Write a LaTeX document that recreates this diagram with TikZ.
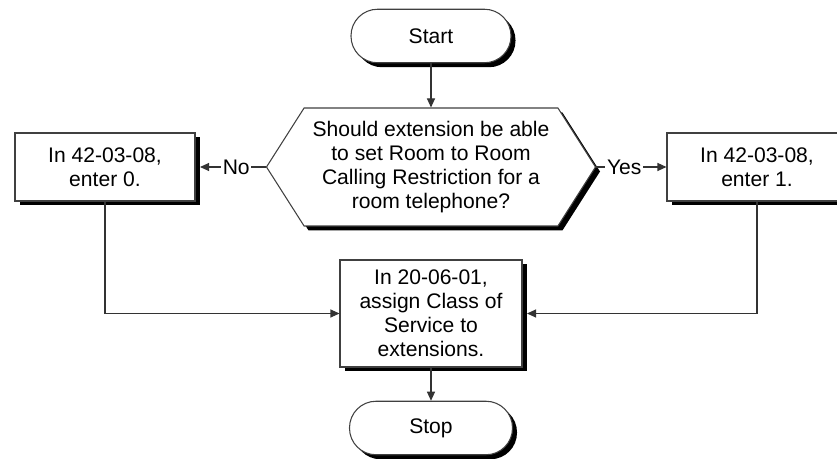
\documentclass[tikz,border=0pt]{standalone}
\usepackage{fontspec}
\setmainfont{Liberation Sans}
\usetikzlibrary{arrows.meta,shapes.symbols,shadows}

\begin{document}
\begin{tikzpicture}[
  font=\fontsize{12}{13.7}\selectfont,
  shade/.style={drop shadow={shadow xshift=0.09cm, shadow yshift=-0.09cm,
                fill=black, opacity=1}},
  term/.style={draw=black!75, line width=0.6pt, fill=white, shade,
               rounded corners=0.53cm, minimum width=3.2cm, minimum height=1.07cm},
  proc/.style={draw=black!75, line width=0.6pt, fill=white, shade,
               minimum width=3.6cm, minimum height=1.36cm, align=center},
  ask/.style={draw=black!75, line width=0.6pt, fill=white, shade, signal,
              signal to=west and east, signal pointer angle=115,
              minimum width=6.58cm, minimum height=2.36cm, align=center, inner sep=1pt},
  flow/.style={draw=black!80, line width=0.6pt, -{Triangle[length=0.18cm, width=0.16cm]}},
  tag/.style={fill=white, inner sep=1pt},
]
  \useasboundingbox (0,0) rectangle (16.74,9.18);
  \node[term] (start) at (8.62, 8.46) {Start};
  \node[ask]  (q)     at (8.62, 5.84) {Should extension be able\\to set Room to Room\\Calling Restriction for a\\room telephone?};
  \node[proc] (lbox)  at (2.10, 5.84) {In 42-03-08,\\enter 0.};
  \node[proc] (rbox)  at (15.14, 5.84) {In 42-03-08,\\enter 1.};
  \node[proc, minimum width=3.64cm, minimum height=2.14cm]
              (mid)   at (8.62, 2.91) {In 20-06-01,\\assign Class of\\Service to\\extensions.};
  \node[term, minimum width=3.26cm] (stop) at (8.62, 0.62) {Stop};
  % connectors
  \draw[flow] (start.south) -- (q.north);
  \draw[flow] (q.west) -- node[tag, pos=0.45] {No} ([xshift=0.09cm]lbox.east);
  \draw[flow] (q.east) -- node[tag, pos=0.4] {Yes} (rbox.west);
  \draw[flow] (lbox.south) |- (mid.west);
  \draw[flow] (rbox.south) |- ([xshift=0.09cm]mid.east);
  \draw[flow] (mid.south) -- (stop.north);
\end{tikzpicture}
\end{document}
